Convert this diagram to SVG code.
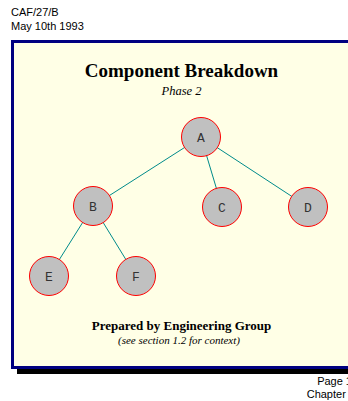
<svg xmlns="http://www.w3.org/2000/svg" width="348" height="401" viewBox="0 0 348 401">
<style>
.hdr{font-family:"Liberation Sans",Arial,sans-serif;font-size:11px;fill:#000}
.node circle{fill:#c0c0c0;stroke:#ff0000;stroke-width:1}
.node text{font-family:"Liberation Mono","Courier New",monospace;font-size:13px;fill:#333;text-anchor:middle}
.edges line{stroke:#008b8b;stroke-width:1}
.serif{font-family:"Liberation Serif","Times New Roman",serif;text-anchor:middle;fill:#000}
</style>
<rect width="348" height="401" fill="#fff"/>
<text class="hdr" x="11" y="16">CAF/27/B</text>
<text class="hdr" x="11" y="30">May 10th 1993</text>
<rect x="17" y="45" width="340" height="329" fill="#000"/>
<rect x="12.5" y="41.5" width="345" height="326" fill="#ffffe6" stroke="#000080" stroke-width="3"/>
<text class="serif" x="181.5" y="77" font-size="19" font-weight="bold">Component Breakdown</text>
<text class="serif" x="181.5" y="95" font-size="12.5" font-style="italic">Phase 2</text>
<g class="edges">
<line x1="201" y1="137" x2="93" y2="206"/>
<line x1="201" y1="137" x2="222" y2="207"/>
<line x1="201" y1="137" x2="308" y2="207"/>
<line x1="93" y1="206" x2="49" y2="276"/>
<line x1="93" y1="206" x2="136" y2="276"/>
</g>
<g id="A" class="node"><circle cx="201" cy="137" r="19.5"/><text x="201" y="141.5">A</text></g>
<g id="B" class="node"><circle cx="93" cy="206" r="19.5"/><text x="93" y="210.5">B</text></g>
<g id="C" class="node"><circle cx="222" cy="207" r="19.5"/><text x="222" y="211.5">C</text></g>
<g id="D" class="node"><circle cx="308" cy="207" r="19.5"/><text x="308" y="211.5">D</text></g>
<g id="E" class="node"><circle cx="49" cy="276" r="19.5"/><text x="49" y="280.5">E</text></g>
<g id="F" class="node"><circle cx="136" cy="276" r="19.5"/><text x="136" y="280.5">F</text></g>
<text class="serif" x="181.5" y="330" font-size="13" font-weight="bold">Prepared by Engineering Group</text>
<text class="serif" x="179" y="344" font-size="11" font-style="italic">(see section 1.2 for context)</text>
<text class="hdr" x="352" y="385" text-anchor="end">Page 1</text>
<text class="hdr" x="355" y="398" text-anchor="end">Chapter 3</text>
</svg>
